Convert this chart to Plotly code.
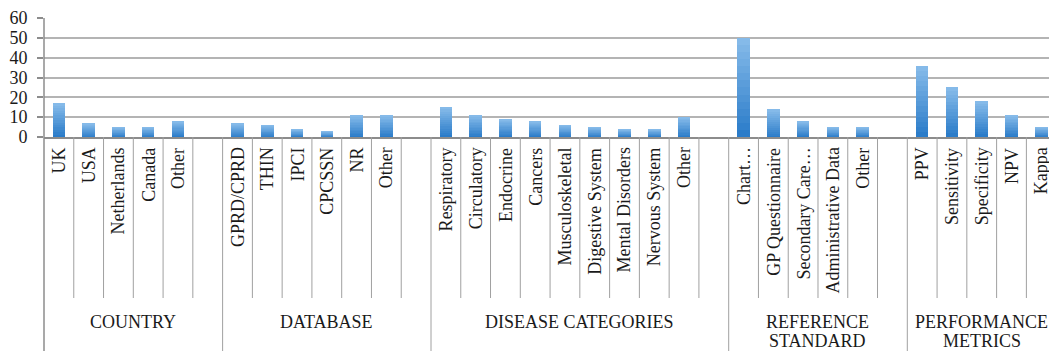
import plotly.graph_objects as go

# ---------------- data ----------------
group_names = ["COUNTRY", "DATABASE", "DISEASE CATEGORIES",
               "REFERENCE<br>STANDARD", "PERFORMANCE<br>METRICS"]

country_labels = ["UK", "USA", "Netherlands", "Canada", "Other"]
country_values = [17, 7, 5, 5, 8]

database_labels = ["GPRD/CPRD", "THIN", "IPCI", "CPCSSN", "NR", "Other"]
database_values = [7, 6, 4, 3, 11, 11]

disease_labels = ["Respiratory", "Circulatory", "Endocrine", "Cancers",
                  "Musculoskeletal", "Digestive System", "Mental Disorders",
                  "Nervous System", "Other"]
disease_values = [15, 11, 9, 8, 6, 5, 4, 4, 10]

reference_labels = ["Chart…", "GP Questionnaire", "Secondary Care…",
                    "Administrative Data", "Other"]
reference_values = [50, 14, 8, 5, 5]

performance_labels = ["PPV", "Sensitivity", "Specificity", "NPV", "Kappa"]
performance_values = [36, 25, 18, 11, 5]

y_ticks = [0, 10, 20, 30, 40, 50, 60]

# ---------------- build positions ----------------
groups = [
    (country_labels, country_values),
    (database_labels, database_values),
    (disease_labels, disease_values),
    (reference_labels, reference_values),
    (performance_labels, performance_values),
]

xs, vals, labs = [], [], []
group_spans = []
pos = 0
for gi, (labels, values) in enumerate(groups):
    start = pos
    for lab, v in zip(labels, values):
        xs.append(pos)
        vals.append(v)
        labs.append(lab)
        pos += 1
    if gi < len(groups) - 1:
        pos += 1  # empty gap category
    group_spans.append((start - 0.5, pos - 0.5))
n_cats = pos  # total categories incl. gaps

FONT = "Liberation Serif, Times New Roman, serif"
W, H = 1049, 351
ML, MT, MB = 44, 18, 214
plot_h = H - MT - MB


def py(pix):
    """pixel row -> paper y"""
    return (H - MB - pix) / plot_h


fig = go.Figure()

# gradient bars: stacked segments, dark at bottom, light at top
N = 14
c_bot = (40, 122, 200)
c_top = (136, 188, 234)
for k in range(N):
    t = (k + 0.5) / N
    col = tuple(int(round(c_bot[i] + (c_top[i] - c_bot[i]) * t)) for i in range(3))
    fig.add_trace(go.Bar(
        x=xs,
        y=[v / N for v in vals],
        base=[v * k / N for v in vals],
        width=0.42,
        marker=dict(color="rgb(%d,%d,%d)" % col, line=dict(width=0)),
        hoverinfo="skip",
        showlegend=False,
    ))

shapes = []
line_col = "#a0a0a0"
group_bounds = {b for span in group_spans for b in span}
for i in range(n_cats - 1):
    b = i + 0.5
    y1 = py(H) if b in group_bounds else py(298)
    shapes.append(dict(type="line", xref="x", yref="paper",
                       x0=b, x1=b, y0=0, y1=y1,
                       line=dict(color=line_col, width=1)))
# left axis extended down
shapes.append(dict(type="line", xref="x domain", yref="paper",
                   x0=0, x1=0, y0=1, y1=py(H),
                   line=dict(color="#8c8c8c", width=1.5)))

annotations = []
for x, lab in zip(xs, labs):
    annotations.append(dict(
        x=x, y=py(146.5), xref="x", yref="paper",
        text=lab, textangle=-90, showarrow=False,
        xanchor="center", yanchor="top", borderpad=0,
        font=dict(family=FONT, size=18, color="#1a1a1a"),
    ))
for (a, b), name in zip(group_spans, group_names):
    for li, line in enumerate(name.split("<br>")):
        annotations.append(dict(
            x=(a + b) / 2, y=py(321.5 + 19 * li), xref="x", yref="paper",
            text=line, showarrow=False, borderpad=0,
            xanchor="center", yanchor="middle",
            font=dict(family=FONT, size=18, color="#1a1a1a"),
        ))

fig.update_layout(
    width=W, height=H,
    margin=dict(l=ML, r=0, t=MT, b=MB),
    paper_bgcolor="white", plot_bgcolor="white",
    barmode="overlay",
    bargap=0,
    shapes=shapes,
    annotations=annotations,
    showlegend=False,
    xaxis=dict(
        range=[-0.5, n_cats - 0.5 - 0.24],
        showticklabels=False, ticks="",
        showgrid=False, zeroline=False,
        showline=True, linecolor="#8c8c8c", linewidth=1.5,
        fixedrange=True,
    ),
    yaxis=dict(
        range=[0, 60],
        tickvals=y_ticks,
        ticks="outside", ticklen=6, tickcolor="#8c8c8c", tickwidth=1.5,
        ticklabelstandoff=6,
        tickfont=dict(family=FONT, size=18, color="#1a1a1a"),
        showgrid=True, gridcolor="#b4b4b4", gridwidth=1.5,
        zeroline=False, showline=False,
        fixedrange=True,
    ),
)

fig.write_html("out.html")
